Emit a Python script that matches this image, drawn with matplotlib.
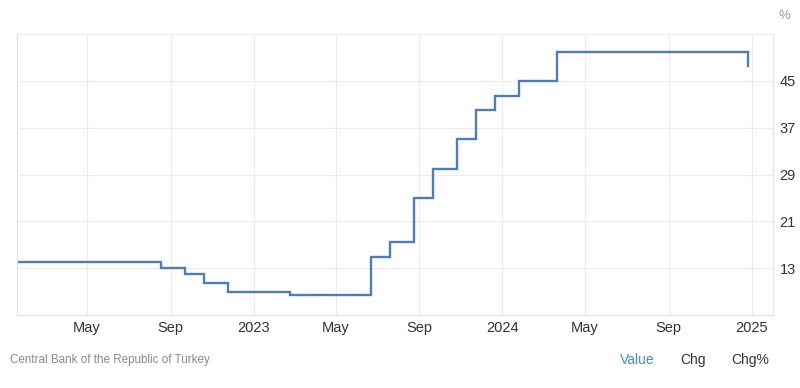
import matplotlib
matplotlib.use('Agg')
import matplotlib.pyplot as plt
import numpy as np
from datetime import datetime

plt.rcParams['font.family'] = ['Liberation Sans', 'DejaVu Sans']

# policy rate decisions (date the rate took effect, rate %)
dates = ['2022-01-18', '2022-08-18', '2022-09-22', '2022-10-20', '2022-11-24',
         '2023-02-23', '2023-06-22', '2023-07-20', '2023-08-24', '2023-09-21',
         '2023-10-26', '2023-11-23', '2023-12-21', '2024-01-25', '2024-03-21',
         '2024-12-26']
rates = [14, 13, 12, 10.5, 9, 8.5, 15, 17.5, 25, 30, 35, 40, 42.5, 45, 50, 47.5]

tick_dates = ['2022-05-01', '2022-09-01', '2023-01-01', '2023-05-01', '2023-09-01',
              '2024-01-01', '2024-05-01', '2024-09-01', '2025-01-01']
tick_labels = ['May', 'Sep', '2023', 'May', 'Sep', '2024', 'May', 'Sep', '2025']
y_ticks = [5, 13, 21, 29, 37, 45, 53]
y_labels = ['', '13', '21', '29', '37', '45', '']

x = [datetime.strptime(d, '%Y-%m-%d') for d in dates]
# step line: each rate holds until the next decision; last point is a drop at the end
xs, ys = [], []
for i in range(len(x)):
    if i > 0:
        xs.append(x[i]); ys.append(rates[i - 1])
    xs.append(x[i]); ys.append(rates[i])

fig = plt.figure(figsize=(8, 3.88), dpi=100)
ax = fig.add_axes([0.021, 0.188, 0.945, 0.724])
ax.plot(xs, ys, color='#4f7cba', lw=1.7, solid_joinstyle='miter')

ax.set_xlim(datetime(2022, 1, 18), datetime(2025, 2, 1))
ax.set_ylim(5, 53)
ax.set_xticks([datetime.strptime(d, '%Y-%m-%d') for d in tick_dates])
ax.set_xticklabels(tick_labels)
ax.set_yticks(y_ticks)
ax.set_yticklabels(y_labels)
ax.yaxis.tick_right()
ax.tick_params(axis='both', length=0, labelsize=10.5, colors='#333333')
ax.tick_params(axis='x', pad=4)
ax.tick_params(axis='y', pad=5)
ax.grid(True, color='#ececec', lw=0.8)
ax.set_axisbelow(True)
ax.spines['top'].set_visible(False)
for s in ['left', 'right', 'bottom']:
    ax.spines[s].set_color('#e2e2e2')
    ax.spines[s].set_linewidth(0.8)

fig.text(0.981, 0.958, '%', color='#999999', fontsize=9.5, ha='center', va='center')
fig.text(0.012, 0.072, 'Central Bank of the Republic of Turkey', color='#8a8a8a',
         fontsize=8.4, ha='left', va='center')
fig.text(0.797, 0.072, 'Value', color='#3d8fd8', fontsize=10, ha='center', va='center')
fig.text(0.866, 0.072, 'Chg', color='#333333', fontsize=10, ha='center', va='center')
fig.text(0.938, 0.072, 'Chg%', color='#333333', fontsize=10, ha='center', va='center')

fig.savefig('out.png', dpi=100)
